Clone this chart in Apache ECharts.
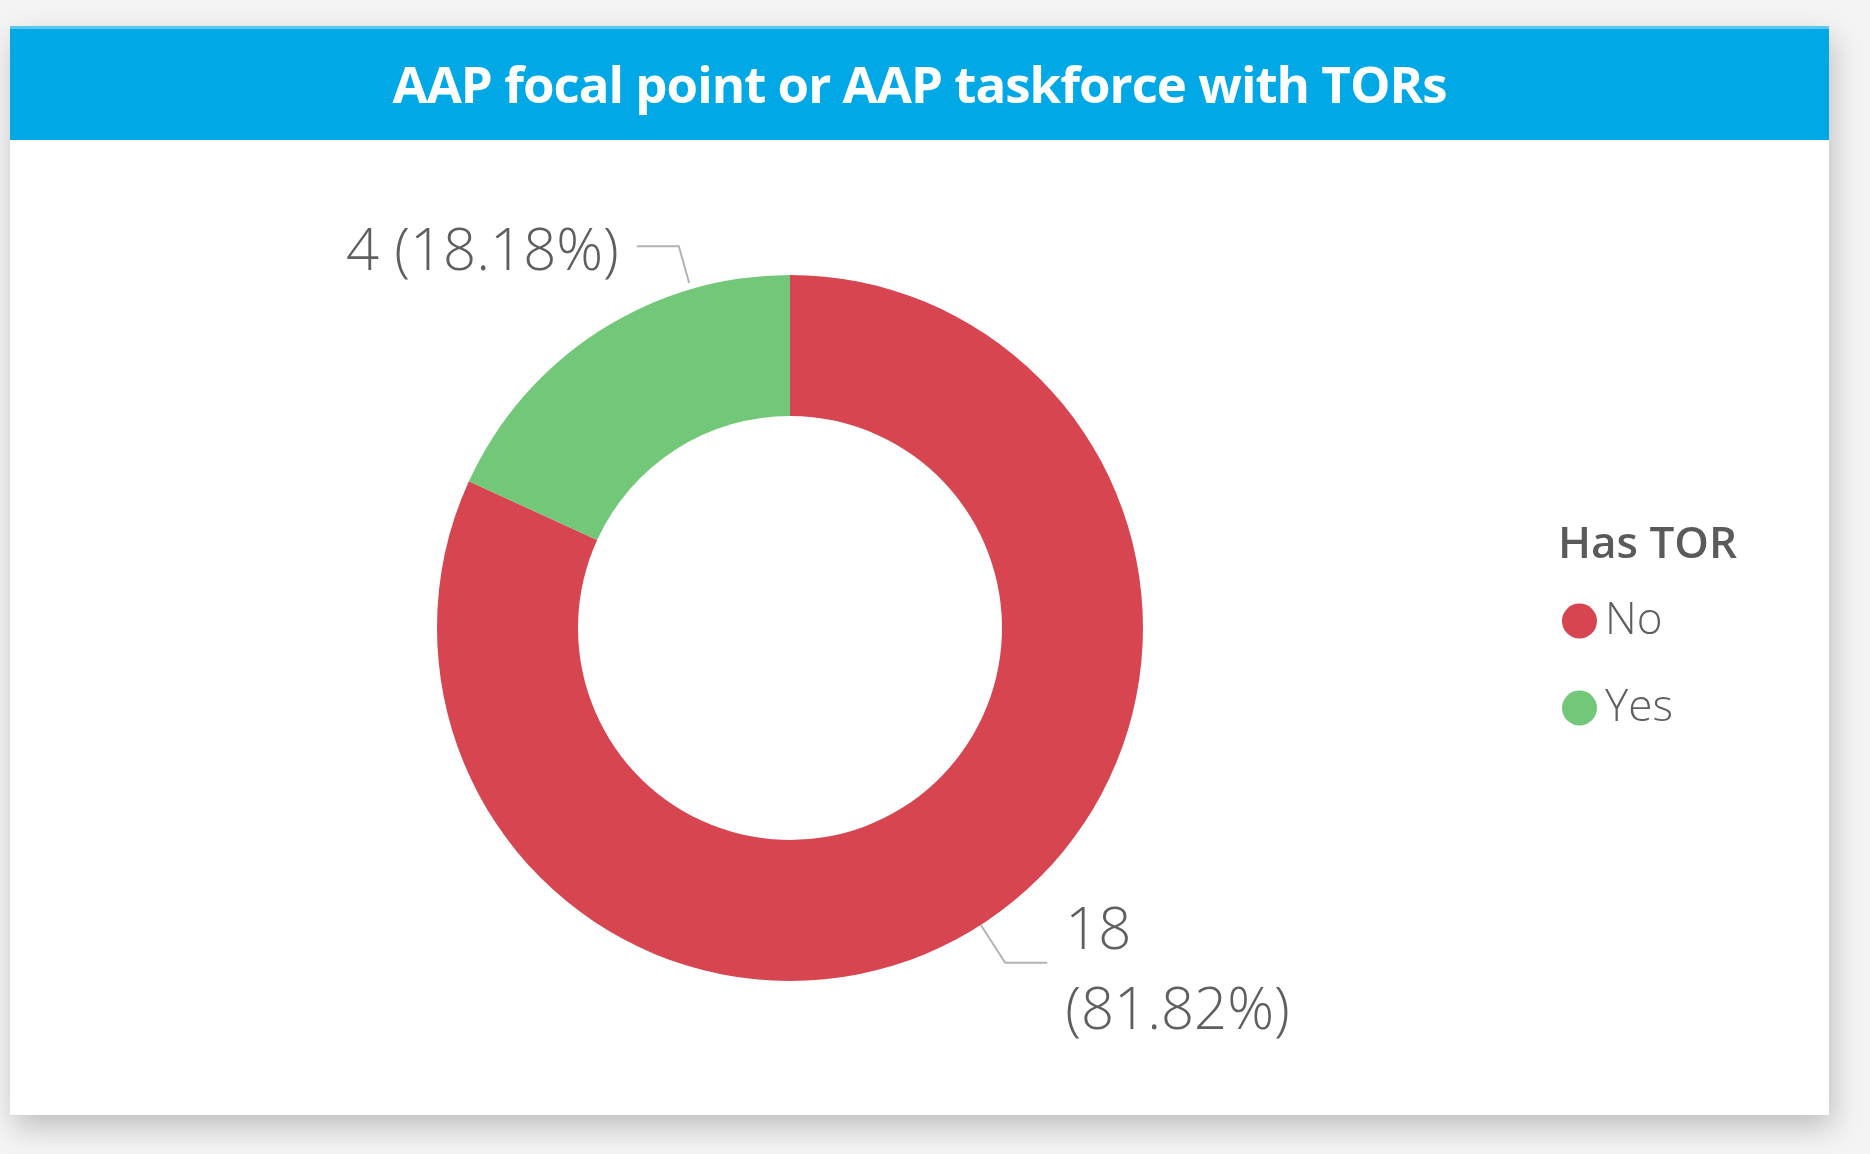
<!DOCTYPE html>
<html>
<head>
<meta charset="utf-8">
<script src="https://cdn.jsdelivr.net/npm/echarts@6/dist/echarts.min.js"></script>
<style>
  html, body { margin: 0; padding: 0; width: 1870px; height: 1154px; background: #f4f4f4; overflow: hidden; }
  #card {
    position: absolute; left: 10px; top: 26px; width: 1819px; height: 1089px;
    background: #ffffff; box-shadow: 4px 12px 28px rgba(0, 0, 0, 0.22);
  }
  #header {
    height: 114px; background: #00a9e6; border-top: 3px solid #5cc6ee; box-sizing: border-box;
    color: #ffffff; font-family: "Open Sans", sans-serif; font-weight: 700; font-size: 51px;
    display: flex; align-items: center; justify-content: center; letter-spacing: -1px;
    padding-bottom: 4px;
  }
  #chart { position: absolute; left: 0; top: 0; width: 1870px; height: 1154px; }
</style>
</head>
<body>
<div id="card"><div id="header">AAP focal point or AAP taskforce with TORs</div></div>
<div id="chart"></div>
<script>
// Data
const categories = ['No', 'Yes'];
const counts = [18, 4];
const colors = ['#d64550', '#73c779'];
const legendTitle = 'Has TOR';

function initDonut() {
  const chart = echarts.init(document.getElementById('chart'));

  const option = {
    animation: false,
    title: {
      text: legendTitle,
      left: 1553,
      top: 518,
      textStyle: { fontFamily: 'Open Sans', fontSize: 44, fontWeight: 600, color: '#5a5a5a' }
    },
    legend: {
      orient: 'vertical',
      left: 1557,
      top: 594,
      icon: 'circle',
      itemWidth: 35,
      itemHeight: 35,
      itemGap: 43,
      textStyle: { fontFamily: 'Open Sans', fontSize: 44, fontWeight: 300, color: '#5f5f5f', padding: [0, 0, 0, 3] },
      data: categories
    },
    series: [{
      type: 'pie',
      center: [790, 628],
      radius: [212, 353],
      startAngle: 90,
      clockwise: true,
      avoidLabelOverlap: false,
      label: {
        show: true,
        position: 'outside',
        fontFamily: 'Open Sans',
        fontWeight: 300,
        fontSize: 58,
        lineHeight: 80,
        color: '#5f5f5f',
        distanceToLabelLine: 18,
        formatter: function (p) {
          const sep = p.dataIndex === 0 ? '\n' : ' ';
          return p.value + sep + '(' + p.percent.toFixed(2) + '%)';
        }
      },
      labelLine: {
        show: true,
        length: 45,
        length2: 42,
        lineStyle: { color: '#b3b3b3', width: 2 }
      },
      // nudge labels to where the original puts them
      labelLayout: function (p) {
        if (p.dataIndex === 0) {
          return { dy: 10 };
        }
        if (p.dataIndex === 1 && p.labelLinePoints) {
          const pts = p.labelLinePoints;
          return {
            dx: 104,
            dy: -40,
            labelLinePoints: [
              [pts[0][0] + 90, pts[0][1] - 48],
              [pts[1][0] + 104, pts[1][1] - 47],
              [pts[2][0] + 104, pts[2][1] - 47]
            ]
          };
        }
      },
      emphasis: { disabled: true },
      data: categories.map((name, i) => ({
        name: name,
        value: counts[i],
        itemStyle: { color: colors[i] }
      }))
    }]
  };

  chart.setOption(option);
}

initDonut();
</script>
</body>
</html>
